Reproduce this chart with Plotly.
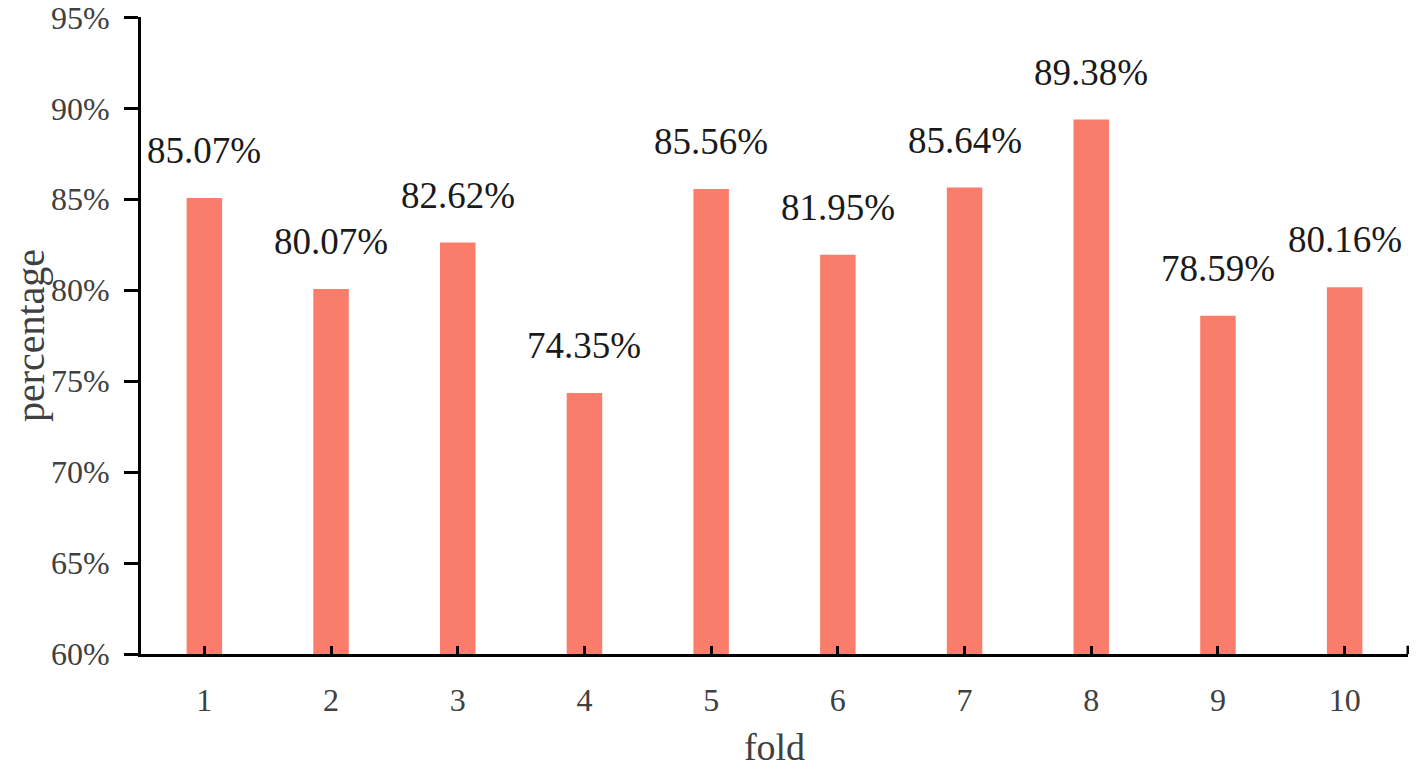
import plotly.graph_objects as go

# fold results
folds = ["1", "2", "3", "4", "5", "6", "7", "8", "9", "10"]
accuracy = [85.07, 80.07, 82.62, 74.35, 85.56, 81.95, 85.64, 89.38, 78.59, 80.16]
y_ticks = [60, 65, 70, 75, 80, 85, 90, 95]
y_tick_text = ["60%", "65%", "70%", "75%", "80%", "85%", "90%", "95%"]

FONT = "Liberation Serif, Times New Roman, serif"

fig = go.Figure()
fig.add_trace(go.Bar(x=folds, y=accuracy, width=0.28, marker_color="#fa7d6c",
                     marker_line_width=0, hoverinfo="skip"))

# value labels above each bar (x given as category index)
for i, v in enumerate(accuracy):
    fig.add_annotation(x=i, y=v, text=f"{v:.2f}%", showarrow=False,
                       yanchor="bottom", yshift=25,
                       font=dict(family=FONT, size=37, color="#1a1a1a"))

# closing tick at the right end of the x axis
fig.add_shape(type="line", xref="paper", yref="paper", x0=1, x1=1, y0=0, y1=0.013,
              line=dict(color="black", width=3))

fig.update_layout(
    width=1417, height=771,
    margin=dict(l=133, r=17, t=9, b=125),
    plot_bgcolor="white", paper_bgcolor="white",
    showlegend=False,
    font=dict(family=FONT, color="#404040"),
)
fig.update_xaxes(
    type="category", range=[-0.5, 9.5], automargin=False,
    showline=True, linecolor="black", linewidth=3,
    ticks="inside", ticklen=8, tickwidth=3, tickcolor="black",
    tickfont=dict(family=FONT, size=32, color="#404040"),
    ticklabelstandoff=16,
    title=dict(text="fold", font=dict(family=FONT, size=38, color="#404040"), standoff=16),
    showgrid=False,
)
fig.update_yaxes(
    range=[60, 95.02], tickvals=y_ticks, ticktext=y_tick_text, automargin=False,
    ticklabeloverflow="allow",
    showline=True, linecolor="black", linewidth=3,
    ticks="outside", ticklen=14, tickwidth=3, tickcolor="black",
    tickfont=dict(family=FONT, size=32, color="#404040"),
    ticklabelstandoff=8,
    title=dict(text="percentage", font=dict(family=FONT, size=40, color="#404040"), standoff=16),
    showgrid=False, zeroline=False,
)

fig.write_html("out.html")
